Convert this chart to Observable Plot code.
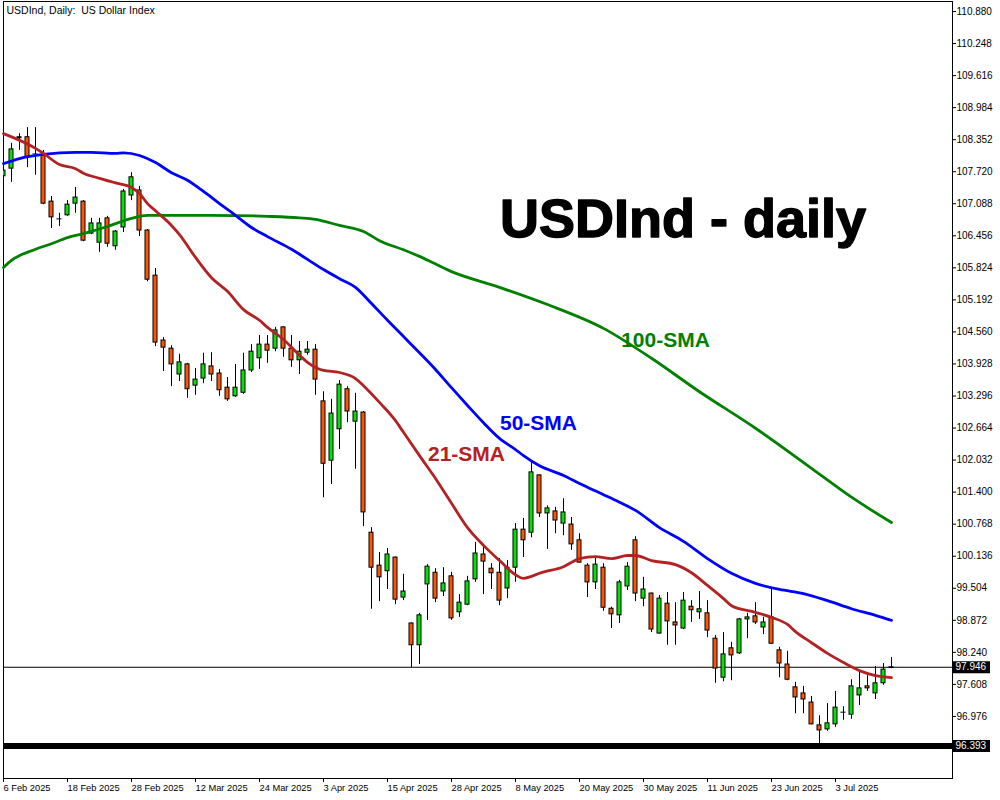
<!DOCTYPE html>
<html><head><meta charset="utf-8">
<script src="https://cdn.jsdelivr.net/npm/d3@7"></script>
<script src="https://cdn.jsdelivr.net/npm/@observablehq/plot@0.6"></script>
<style>html,body{margin:0;padding:0;background:#fff;} svg{display:block}</style>
</head><body><div id="chart"></div>
<script>
// ---- data (USDInd daily, bar index 0 = 6 Feb 2025) ----
const open = [107.63,107.78,108.38,108.40,108.08,108.04,107.13,106.79,106.86,107.09,107.13,106.50,106.32,106.80,106.25,106.62,107.25,107.35,106.56,105.67,
104.39,104.23,103.72,103.92,103.50,103.64,103.88,103.74,103.46,103.29,103.36,103.80,104.04,104.31,104.23,104.65,104.23,104.00,104.15,104.21,
103.19,102.02,102.64,103.43,102.79,102.97,100.60,99.95,99.84,100.11,99.32,98.81,98.38,99.58,99.81,99.44,99.74,99.03,99.18,99.68,
100.17,99.89,99.81,99.50,99.91,100.66,100.60,101.73,100.98,101.02,100.78,100.76,100.45,99.95,99.62,99.91,99.10,98.97,99.54,100.45,
99.30,99.40,98.61,99.20,98.83,98.71,99.14,99.03,99.01,98.51,97.74,98.32,98.22,98.89,98.95,98.73,98.93,98.28,98.00,97.55,
97.43,97.25,96.80,96.72,96.82,97.05,97.01,97.39,97.57,97.43,97.63,97.93];
const high = [107.88,108.28,108.47,108.59,108.59,108.14,107.23,106.90,107.15,107.41,107.15,106.80,106.80,106.84,106.56,107.37,107.70,107.43,106.58,105.81,
104.45,104.29,104.12,103.94,103.84,104.14,104.15,103.82,103.66,103.92,104.14,104.31,104.49,104.49,104.65,104.66,104.49,104.37,104.37,104.31,
103.38,103.23,103.60,103.48,103.35,102.99,100.70,100.21,100.29,100.12,99.78,98.82,99.01,99.97,99.89,99.91,99.82,99.38,99.74,100.41,
100.37,99.99,100.09,100.05,100.78,100.88,101.98,101.74,101.13,101.10,101.27,100.90,100.58,99.99,100.11,99.99,99.13,99.66,100.01,100.52,
99.72,99.41,99.36,99.42,99.22,99.42,99.26,99.44,99.26,98.57,98.63,98.44,98.91,99.01,99.22,98.93,99.48,98.34,98.26,97.65,
97.57,97.37,96.99,97.23,97.47,97.17,97.70,97.88,97.78,97.96,98.02,98.14];
const low = [107.55,107.51,108.14,107.80,107.65,107.07,106.60,106.64,106.84,106.90,106.34,106.48,106.13,106.23,106.17,106.52,107.15,106.44,105.55,104.27,
103.78,103.48,103.58,103.25,103.31,103.54,103.58,103.29,103.19,103.27,103.33,103.76,103.82,103.94,104.17,104.06,103.86,103.72,104.10,103.31,
101.29,101.55,102.24,102.77,101.85,100.72,99.09,99.24,99.48,99.18,99.26,97.94,98.00,98.87,99.22,99.34,98.87,98.93,99.16,99.62,
99.38,99.48,99.16,99.30,99.62,100.11,100.50,100.90,100.27,100.58,100.54,100.25,100.00,99.32,99.48,99.05,98.71,98.81,99.46,99.24,
99.14,98.63,98.60,98.38,98.38,98.69,98.83,98.89,98.53,97.63,97.66,97.68,98.20,98.51,98.79,98.59,98.40,97.74,97.68,97.03,
97.03,96.81,96.44,96.68,96.76,96.90,96.92,97.19,97.47,97.31,97.59,97.92];
const close = [107.74,108.16,108.40,108.00,108.07,107.09,106.82,106.79,107.07,107.21,106.36,106.70,106.70,106.30,106.54,107.33,107.61,106.56,105.59,104.35,
104.25,103.92,103.96,103.43,103.62,103.92,103.72,103.41,103.23,103.46,103.80,104.17,104.31,104.19,104.59,104.23,104.00,104.17,104.21,103.62,
101.96,102.95,103.52,102.99,102.99,101.00,99.91,99.72,100.17,99.28,99.44,98.38,98.97,99.93,99.30,99.60,98.91,99.22,99.64,100.19,
100.03,99.80,99.26,99.91,100.66,100.45,101.79,100.98,101.08,100.84,101.00,100.37,100.01,99.62,99.97,99.12,98.99,99.62,99.93,99.40,
99.48,98.69,99.30,98.85,98.77,99.26,99.07,99.09,98.67,97.92,98.20,98.18,98.89,98.93,98.83,98.83,98.41,98.02,97.70,97.35,
97.31,96.82,96.70,96.84,97.15,97.06,97.57,97.53,97.53,97.63,97.90,97.946];

// moving averages: bar index / value
const sma21Idx = [0,4,5,7,9,10,12,14,16,17,18,19,21,22,24,26,28,30,32,33,35,37,38,40,42,44,45,47,49,50,52,54,56,58,60,62,64,65,66,67,70,72,74,76,78,79,81,84,86,88,90,91,94,96,98,99,101,103,105,107,109,111];
const sma21Val = [108.47,108.18,108.08,107.86,107.78,107.69,107.59,107.50,107.41,107.29,107.09,106.95,106.66,106.48,106.03,105.63,105.36,105.00,104.79,104.65,104.41,104.10,103.96,103.80,103.76,103.64,103.50,103.17,102.81,102.58,102.12,101.67,101.18,100.70,100.35,100.05,99.77,99.70,99.74,99.80,99.93,100.09,100.13,100.09,100.15,100.15,100.05,99.97,99.81,99.56,99.30,99.16,99.03,98.93,98.79,98.65,98.43,98.22,98.04,97.88,97.78,97.74];
const sma50Idx = [0,2,5,9,11,14,15,17,19,21,23,25,27,29,31,33,36,38,40,42,44,46,48,50,52,54,56,58,60,62,64,65,67,70,72,75,77,79,82,85,88,91,94,97,100,103,106,109,111];
const sma50Val = [107.88,107.98,108.06,108.10,108.10,108.08,108.09,108.04,107.90,107.70,107.55,107.33,107.09,106.86,106.62,106.44,106.19,105.99,105.79,105.61,105.44,105.12,104.79,104.47,104.15,103.82,103.46,103.11,102.77,102.46,102.24,102.12,101.92,101.73,101.57,101.35,101.20,101.04,100.70,100.43,100.09,99.80,99.60,99.48,99.40,99.26,99.10,98.97,98.87];
const sma100Idx = [0,1,4,6,8,10,13,16,18,21,26,33,37,39,42,45,47,50,52,56,62,68,75,81,87,94,101,106,111];
const sma100Val = [105.83,105.97,106.19,106.30,106.42,106.50,106.64,106.80,106.86,106.86,106.86,106.84,106.81,106.78,106.66,106.54,106.36,106.18,106.05,105.75,105.44,105.10,104.63,104.04,103.38,102.66,101.87,101.30,100.80];

const lastPrice = 97.946;
const levelLine = 96.393;

const yTicks = [110.880,110.248,109.616,108.984,108.352,107.720,107.088,106.456,105.824,105.192,104.560,103.928,103.296,102.664,102.032,101.400,100.768,100.136,99.504,98.872,98.240,97.608,96.976];
const xTickIdx = [0,8,16,24,32,40,48,56,64,72,80,88,96,104];
const xTickLabels = ["6 Feb 2025","18 Feb 2025","28 Feb 2025","12 Mar 2025","24 Mar 2025","3 Apr 2025","15 Apr 2025","28 Apr 2025","8 May 2025","20 May 2025","30 May 2025","11 Jun 2025","23 Jun 2025","3 Jul 2025"];

const titleText = "USDInd, Daily:\u00a0 US Dollar Index";
const noteText = ["USDInd - daily","100-SMA","50-SMA","21-SMA"];
const noteBar = [84.94, 82.75, 66.875, 57.875];
const notePrice = [106.44, 104.27, 102.62, 102.02];

// ---- build ----
const bars = open.map((o,i)=>({i, open:o, high:high[i], low:low[i], close:close[i]}));
const dir = d => Math.abs(d.close-d.open) < 0.015 ? 0 : (d.close > d.open ? 1 : -1);
const bodies = bars.filter(d=>dir(d)!==0);
const dojis = bars.filter(d=>dir(d)===0);
const pts = (idx, val) => idx.map((i,k)=>({i, v: val[k]}));
const notes = noteText.map((t,k)=>({t, i: noteBar[k], v: notePrice[k]}));

const W=1000, H=800, mL=3, mR=48, mT=1, mB=22;
const fw = W - mL - mR;

const chart = Plot.plot({
  width: W, height: H,
  marginLeft: mL, marginRight: mR, marginTop: mT, marginBottom: mB,
  style: {fontFamily: "'Liberation Sans', Arial, sans-serif", fontSize: "10px", background: "#fff", color: "#000", overflow: "visible"},
  x: {type: "linear", domain: [0, fw/8]},
  y: {type: "linear", domain: [95.752, 111.077]},
  marks: [
    Plot.frame({stroke: "#000", strokeWidth: 1}),
    Plot.axisY({anchor: "right", ticks: yTicks, tickFormat: d => d.toFixed(3), tickSize: 3, tickPadding: 1, label: null, fontSize: 10}),
    Plot.axisX({ticks: xTickIdx, tickFormat: d => xTickLabels[xTickIdx.indexOf(d)], tickSize: 4, tickPadding: 2, textAnchor: "start", label: null, fontSize: 9.3}),
    Plot.ruleY([lastPrice], {y: d => d, stroke: "#000", strokeWidth: 1}),
    Plot.ruleX(bars, {x: "i", y1: "low", y2: "high", stroke: "#000", strokeWidth: 1, clip: true}),
    Plot.rect(bodies, {x1: d => d.i - 0.25, x2: d => d.i + 0.25, y1: "open", y2: "close",
      fill: d => dir(d) > 0 ? "#00e600" : "#ff5500", stroke: "#000", strokeWidth: 1, clip: true}),
    Plot.ruleY(dojis, {y: "close", x1: d => d.i - 0.32, x2: d => d.i + 0.32, stroke: "#000", strokeWidth: 1, clip: true}),
    Plot.line(pts(sma100Idx, sma100Val), {x: "i", y: "v", stroke: "#008000", strokeWidth: 2.8, curve: "monotone-x"}),
    Plot.line(pts(sma50Idx, sma50Val), {x: "i", y: "v", stroke: "#0000ff", strokeWidth: 2.8, curve: "monotone-x"}),
    Plot.line(pts(sma21Idx, sma21Val), {x: "i", y: "v", stroke: "#b22222", strokeWidth: 2.8, curve: "monotone-x"}),
    Plot.ruleY([levelLine], {y: d => d, stroke: "#000", strokeWidth: 6}),
    // right-axis price boxes
    Plot.ruleY([lastPrice, levelLine], {y: d => d, stroke: "#000", strokeWidth: 12, insetLeft: fw, insetRight: -38}),
    Plot.text([lastPrice, levelLine], {y: d => d, text: d => d.toFixed(3), frameAnchor: "right", textAnchor: "start", dx: 3, fill: "#fff", fontSize: 10}),
    // title
    Plot.text([titleText], {text: d => d, frameAnchor: "top-left", textAnchor: "start", lineAnchor: "top", dx: 3, dy: 5, fontSize: 10.5, fill: "#000"}),
    // annotations
    Plot.text(notes.slice(0,1), {x: "i", y: "v", text: "t", textAnchor: "middle", lineAnchor: "bottom", fontSize: 54, fontWeight: "bold", fill: "#000", stroke: "#000", strokeWidth: 1.4}),
    Plot.text(notes.slice(1,2), {x: "i", y: "v", text: "t", textAnchor: "middle", lineAnchor: "bottom", fontSize: 21, fontWeight: "bold", fill: "#008000"}),
    Plot.text(notes.slice(2,3), {x: "i", y: "v", text: "t", textAnchor: "middle", lineAnchor: "bottom", fontSize: 21, fontWeight: "bold", fill: "#0000ff"}),
    Plot.text(notes.slice(3,4), {x: "i", y: "v", text: "t", textAnchor: "middle", lineAnchor: "bottom", fontSize: 21, fontWeight: "bold", fill: "#b22222"})
  ]
});
document.getElementById("chart").appendChild(chart);
</script>
</body></html>
